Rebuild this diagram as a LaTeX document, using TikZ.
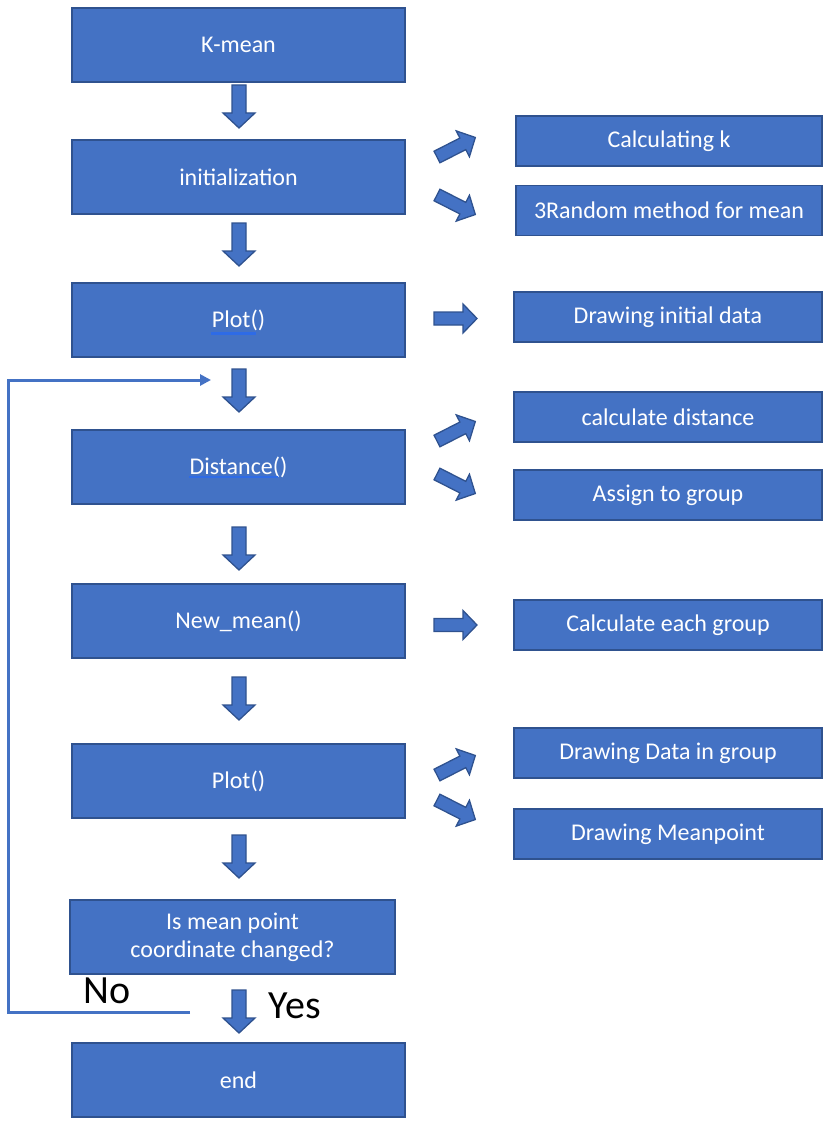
\documentclass[tikz,border=0pt]{standalone}
\usepackage{fontspec}
\setmainfont{Carlito}
\usetikzlibrary{calc,arrows.meta}
\definecolor{boxfill}{HTML}{4472C4}
\definecolor{boxline}{HTML}{2F528F}
\definecolor{loopc}{HTML}{4472C4}
\definecolor{ulc}{HTML}{2E6BE6}
\tikzset{
  box/.style={draw=boxline, line width=1.6pt, fill=boxfill, text=white,
    font=\fontsize{24}{28}\selectfont, inner sep=0pt, align=center},
  mainbox/.style={box, minimum width=333pt, minimum height=74pt},
  sidebox/.style={box, minimum width=308pt, minimum height=50pt},
  lbl/.style={text=black, font=\fontsize{40}{44}\selectfont, inner sep=0pt},
  ulstyle/.style={draw=ulc, line width=2.2pt},
  loopline/.style={draw=loopc, line width=3pt},
  downarrow/.pic={\path[draw=boxline, line width=1.3pt, fill=boxfill]
    (0,-7) -- (28,-7) -- (28,-16) -- (43,0) -- (28,16) -- (28,7) -- (0,7) -- cycle;},
  sidearrow/.pic={\path[draw=boxline, line width=1.3pt, fill=boxfill]
    (0,-6.5) -- (29,-6.5) -- (29,-14.5) -- (43,0) -- (29,14.5) -- (29,6.5) -- (0,6.5) -- cycle;}
}
\begin{document}
\begin{tikzpicture}[x=1pt,y=-1pt]
\useasboundingbox (0,0) rectangle (828,1134);

% main column
\node[mainbox] (kmean) at (238.5,45) {K-mean};
\node[mainbox] (init)  at (238.5,177) {initialization};
\node[mainbox] (plota) at (238.5,320) {Plot()};
\node[mainbox] (dist)  at (238.5,467) {Distance()};
\node[mainbox] (newm)  at (238.5,621) {New\_mean()};
\node[mainbox] (plotb) at (238.5,781) {Plot()};
\node[box, minimum width=325pt, minimum height=74pt] (chg) at (232.5,937) {Is mean point\\coordinate changed?};
\node[mainbox] (endn)  at (238.5,1080) {end};

% side boxes
\node[sidebox, minimum width=306pt] (calck) at (669,141) {Calculating k};
\node[sidebox, minimum width=306pt] (rand)  at (669,210.5) {3Random method for mean};
\node[sidebox] (drawinit) at (668,317) {Drawing initial data};
\node[sidebox] (cdist)    at (668,417) {calculate distance};
\node[sidebox] (assign)   at (668,495) {Assign to group};
\node[sidebox] (ceach)    at (668,625) {Calculate each group};
\node[sidebox] (ddata)    at (668,753) {Drawing Data in group};
\node[sidebox] (dmean)    at (668,834) {Drawing Meanpoint};

% spell-check underlines
\coordinate (ula) at ($(plota.center)+(-27.5,13.5)$);
\coordinate (ulb) at ($(dist.center)+(-49.5,10)$);
\draw[ulstyle] (ula) -- +(45,0);
\draw[ulstyle] (ulb) -- +(89,0);

% down block arrows
\pic[rotate=-90] at (239,85) {downarrow};
\pic[rotate=-90] at (239,223) {downarrow};
\pic[rotate=-90] at (239,369) {downarrow};
\pic[rotate=-90] at (239,527) {downarrow};
\pic[rotate=-90] at (239,677) {downarrow};
\pic[rotate=-90] at (239,835) {downarrow};
\pic[rotate=-90] at (239,990) {downarrow};

% side block arrows
\pic[rotate=27]  at (437,157) {sidearrow};
\pic[rotate=-27] at (437,195) {sidearrow};
\pic at (434,318.5) {sidearrow};
\pic[rotate=27]  at (437,441) {sidearrow};
\pic[rotate=-27] at (437,474) {sidearrow};
\pic at (434,625) {sidearrow};
\pic[rotate=27]  at (437,775) {sidearrow};
\pic[rotate=-27] at (437,800) {sidearrow};

% loop back
\coordinate (loopstart) at (190,1012);
\coordinate (loopend) at (211,380);
\draw[loopline, -{Triangle[length=11pt,width=11pt]}] (loopstart) -- (8,1012) |- (loopend);

% labels
\node[lbl] (no)  at (107,991) {No};
\node[lbl] (yes) at (295,1006) {Yes};
\end{tikzpicture}
\end{document}
